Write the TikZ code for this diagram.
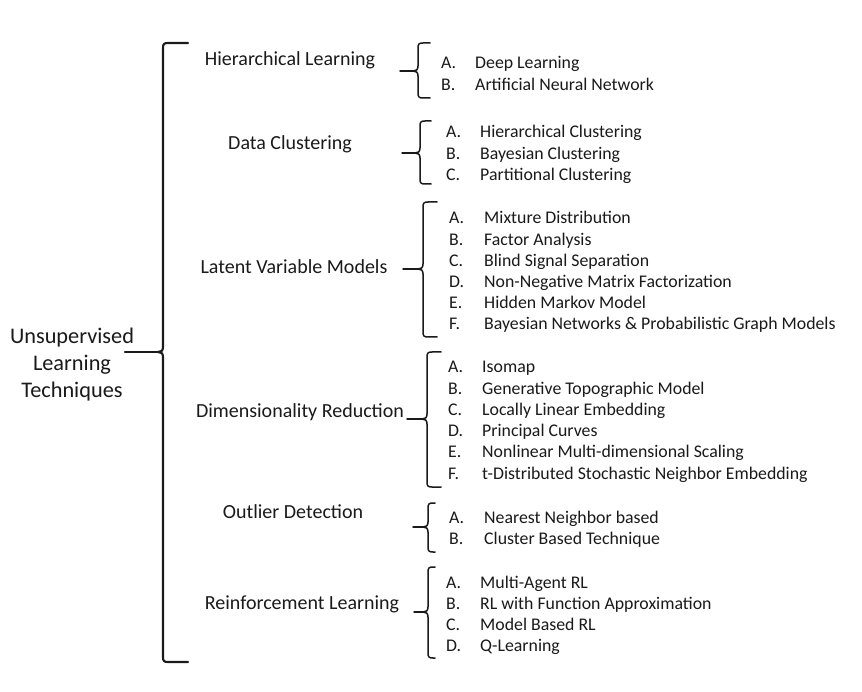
\documentclass[tikz,border=0pt]{standalone}
\usepackage{fontspec}
\setmainfont{Carlito}
\definecolor{ink}{HTML}{1A1A1A}
\newcommand\cbrace[7]{% #1 name, #2 x, #3 top, #4 bottom, #5 mid, #6 tip x, #7 hook x
  \coordinate (#1-tip) at (#6,#5);
  \coordinate (#1-cusp) at ({#2-5},#5);
  \draw[brc] (#7,#3) -- ({#2+5},#3) .. controls ({#2+1},#3) and (#2,{#3+1}) .. (#2,{#3+5})
    -- (#2,{#5-5}) .. controls (#2,{#5-1}) and ({#2-2},#5) .. (#1-cusp)
    .. controls ({#2-2},#5) and (#2,{#5+1}) .. (#2,{#5+5})
    -- (#2,{#4-5}) .. controls (#2,{#4-1}) and ({#2+1},#4) .. ({#2+5},#4) -- (#7,#4);
  \draw[brc] (#1-cusp) -- (#1-tip);
}
\newcommand\grp[5]{% #1 name, #2 letter x, #3 text x, #4 first y, #5 list
  \foreach \l/\t [count=\i from 0] in {#5} {
    \node[item] (#1-l\i) at (#2,{#4+21.2*\i+6}) {\l.};
    \node[item] (#1-t\i) at (#3,{#4+21.2*\i+6}) {\t};
  }
}
\begin{document}
\begin{tikzpicture}[x=1pt,y=-1pt,
  brc/.style={line width=1.5pt, line cap=round, line join=round, draw=ink},
  cat/.style={font=\fontsize{20}{22}\selectfont, inner sep=0, text=ink},
  item/.style={font=\fontsize{17.8}{20}\selectfont, inner sep=0, anchor=base west, text=ink},
  root/.style={font=\fontsize{22.3}{27}\selectfont, align=center, inner sep=0, text=ink}]
\fill[white] (0,0) rectangle (862,692);
\useasboundingbox (0,0) rectangle (862,692);

% root
\node[root] (root) at (72,365) {Unsupervised\\Learning\\Techniques};
\begin{scope}[brc/.append style={line width=2.1pt}]
\cbrace{rb}{163}{43}{662}{352}{125}{188}
\end{scope}

% categories
\node[cat] (hl) at (290,60) {Hierarchical Learning};
\node[cat] (dc) at (290,144) {Data Clustering};
\node[cat] (lv) at (294,267) {Latent Variable Models};
\node[cat] (dr) at (300,412) {Dimensionality Reduction};
\node[cat] (od) at (293,512) {Outlier Detection};
\node[cat] (rl) at (302,604) {Reinforcement Learning};

% sub braces
\cbrace{hlb}{418}{43}{98}{71}{400}{430}
\cbrace{dcb}{420}{121}{184}{153}{402}{431}
\cbrace{lvb}{423}{202}{337}{269}{403}{437}
\cbrace{drb}{427}{352}{487}{419}{407}{441}
\cbrace{odb}{428}{503}{552}{527}{413}{435}
\cbrace{rlb}{428}{567}{658}{612}{414}{435}

% items
\grp{hli}{441}{475}{63}{A/Deep Learning, B/Artificial Neural Network}
\grp{dci}{446}{480}{132}{A/Hierarchical Clustering, B/Bayesian Clustering, C/Partitional Clustering}
\grp{lvi}{449}{484}{218}{A/Mixture Distribution, B/Factor Analysis, C/Blind Signal Separation, D/Non-Negative Matrix Factorization, E/Hidden Markov Model, F/Bayesian Networks \& Probabilistic Graph Models}
\grp{dri}{448}{482}{367}{A/Isomap, B/Generative Topographic Model, C/Locally Linear Embedding, D/Principal Curves, E/Nonlinear Multi-dimensional Scaling, F/t-Distributed Stochastic Neighbor Embedding}
\grp{odi}{449}{484}{517}{A/Nearest Neighbor based, B/Cluster Based Technique}
\grp{rli}{446}{480}{582}{A/Multi-Agent RL, B/RL with Function Approximation, C/Model Based RL, D/Q-Learning}
\end{tikzpicture}
\end{document}
